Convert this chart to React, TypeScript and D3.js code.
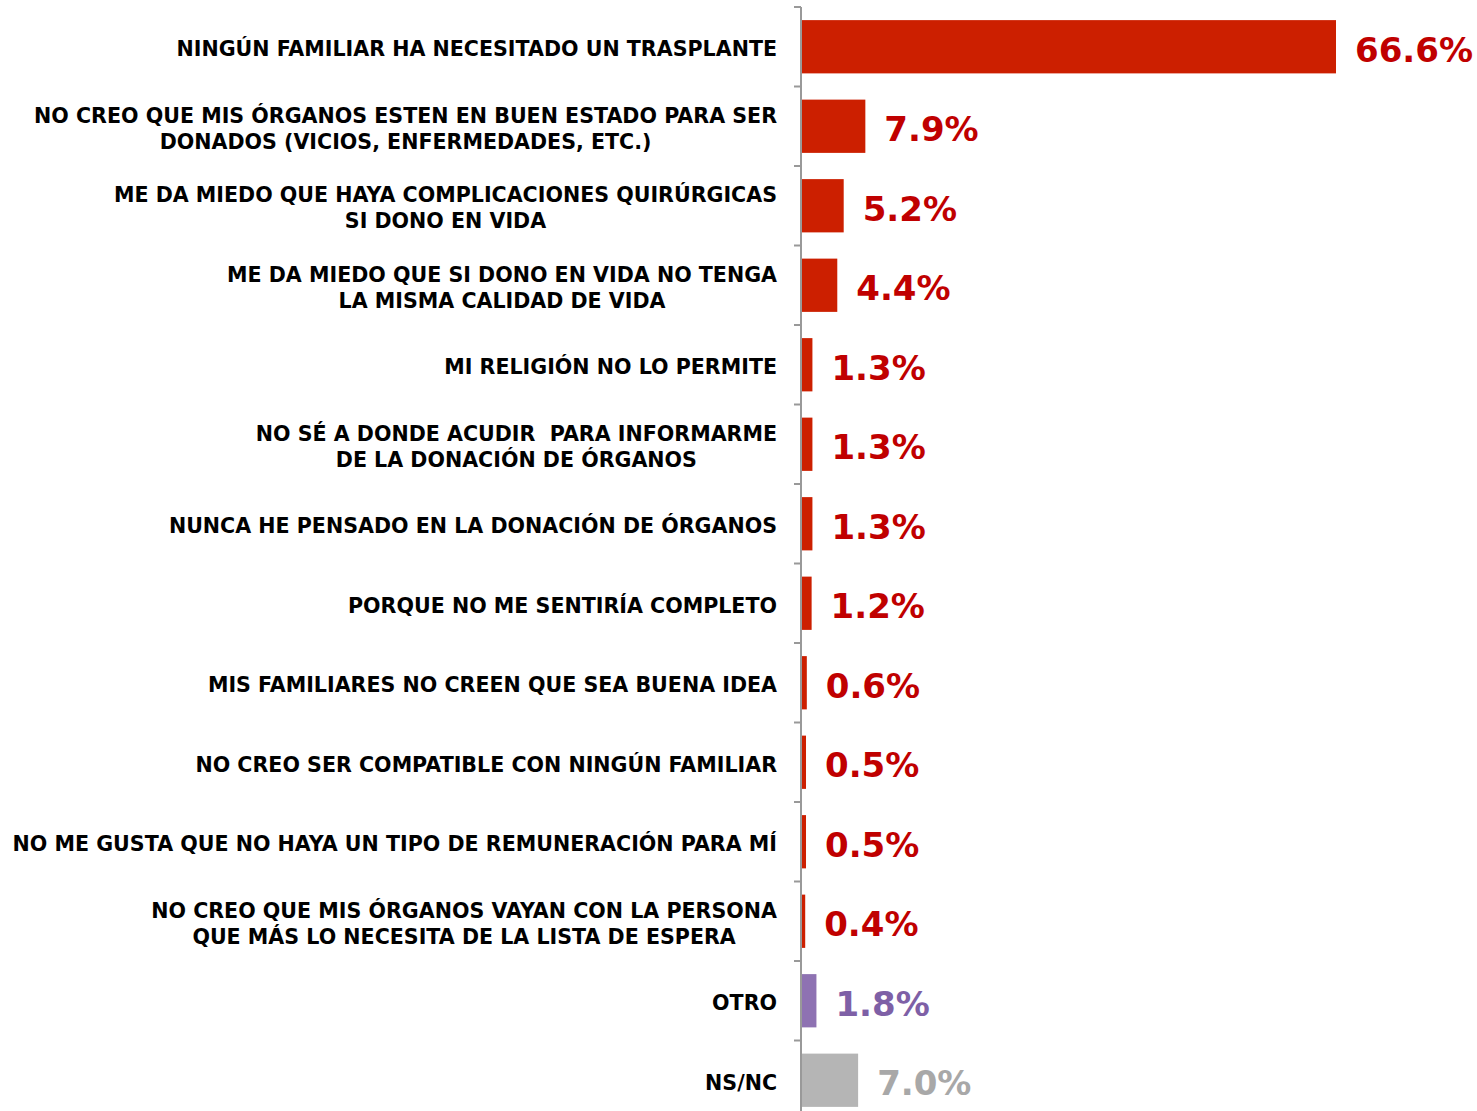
import React, { useEffect, useRef } from 'react';
import * as d3 from 'd3';

const categories: string[][] = [
  ['NINGÚN FAMILIAR HA NECESITADO UN TRASPLANTE'],
  ['NO CREO QUE MIS ÓRGANOS ESTEN EN BUEN ESTADO PARA SER', 'DONADOS (VICIOS, ENFERMEDADES, ETC.)'],
  ['ME DA MIEDO QUE HAYA COMPLICACIONES QUIRÚRGICAS', 'SI DONO EN VIDA'],
  ['ME DA MIEDO QUE SI DONO EN VIDA NO TENGA', 'LA MISMA CALIDAD DE VIDA'],
  ['MI RELIGIÓN NO LO PERMITE'],
  ['NO SÉ A DONDE ACUDIR  PARA INFORMARME', 'DE LA DONACIÓN DE ÓRGANOS'],
  ['NUNCA HE PENSADO EN LA DONACIÓN DE ÓRGANOS'],
  ['PORQUE NO ME SENTIRÍA COMPLETO'],
  ['MIS FAMILIARES NO CREEN QUE SEA BUENA IDEA'],
  ['NO CREO SER COMPATIBLE CON NINGÚN FAMILIAR'],
  ['NO ME GUSTA QUE NO HAYA UN TIPO DE REMUNERACIÓN PARA MÍ'],
  ['NO CREO QUE MIS ÓRGANOS VAYAN CON LA PERSONA', 'QUE MÁS LO NECESITA DE LA LISTA DE ESPERA'],
  ['OTRO'],
  ['NS/NC'],
];
const values = [66.6, 7.9, 5.2, 4.4, 1.3, 1.3, 1.3, 1.2, 0.6, 0.5, 0.5, 0.4, 1.8, 7.0];
const groups = ['main', 'main', 'main', 'main', 'main', 'main', 'main', 'main', 'main', 'main', 'main', 'main', 'otro', 'nsnc'];

const barColor: Record<string, string> = { main: '#CC1F00', otro: '#8E72B2', nsnc: '#B5B5B5' };
const textColor: Record<string, string> = { main: '#C00000', otro: '#7E60A6', nsnc: '#A8A8A8' };

const W = 1477;
const H = 1111;

export default function App() {
  const ref = useRef<SVGSVGElement>(null);

  useEffect(() => {
    const svg = d3.select(ref.current);
    svg.selectAll('*').remove();

    const axisX = 801;
    const idx = values.map((_, i) => i);
    const y = d3.scaleBand<number>().domain(idx).range([7, 7 + 79.5 * 14]).paddingInner(0.33).paddingOuter(0.165);
    const x = d3.scaleLinear().domain([0, 66.6]).range([axisX + 1, 1336]);

    // bars
    svg.append('g').selectAll('rect')
      .data(idx)
      .enter().append('rect')
      .attr('x', x(0))
      .attr('y', i => y(i)!)
      .attr('width', i => x(values[i]) - x(0))
      .attr('height', y.bandwidth())
      .attr('fill', i => barColor[groups[i]]);

    // value labels
    svg.append('g').selectAll('text')
      .data(idx)
      .enter().append('text')
      .attr('x', i => x(values[i]) + 19)
      .attr('y', i => y(i)! + y.bandwidth() / 2)
      .attr('dy', '0.44em')
      .attr('font-family', 'DejaVu Sans')
      .attr('font-weight', 'bold')
      .attr('font-size', 34)
      .attr('fill', i => textColor[groups[i]])
      .text(i => values[i].toFixed(1) + '%');

    // axis
    const axis = svg.append('g');
    axis.append('line')
      .attr('x1', axisX).attr('x2', axisX)
      .attr('y1', 7).attr('y2', H)
      .attr('stroke', '#999').attr('stroke-width', 2);
    const step = y.step();
    axis.selectAll('line.tick')
      .data(d3.range(15))
      .enter().append('line')
      .attr('class', 'tick')
      .attr('x1', axisX - 7).attr('x2', axisX)
      .attr('y1', k => 7 + k * step).attr('y2', k => 7 + k * step)
      .attr('stroke', '#999').attr('stroke-width', 2);

    // category labels
    const lab = svg.append('g')
      .attr('font-family', 'DejaVu Sans')
      .attr('font-weight', 'bold')
      .attr('font-size', 20.6)
      .attr('fill', '#000');
    idx.forEach(i => {
      const lines = categories[i];
      const cy = y(i)! + y.bandwidth() / 2;
      const g = lab.append('g');
      const texts = lines.map((l, j) =>
        g.append('text')
          .attr('y', cy + (j - (lines.length - 1) / 2) * 26)
          .attr('dy', '0.45em')
          .attr('text-anchor', 'middle')
          .attr('xml:space', 'preserve')
          .style('white-space', 'pre')
          .text(l)
      );
      const widths = texts.map(t => (t.node() as SVGTextElement).getComputedTextLength());
      const maxW = d3.max(widths) || 0;
      const center = 777 - maxW / 2;
      texts.forEach(t => t.attr('x', center));
    });
  }, []);

  return (
    <svg ref={ref} width={W} height={H} style={{ position: 'absolute', left: 0, top: 0, background: '#fff' }} />
  );
}
